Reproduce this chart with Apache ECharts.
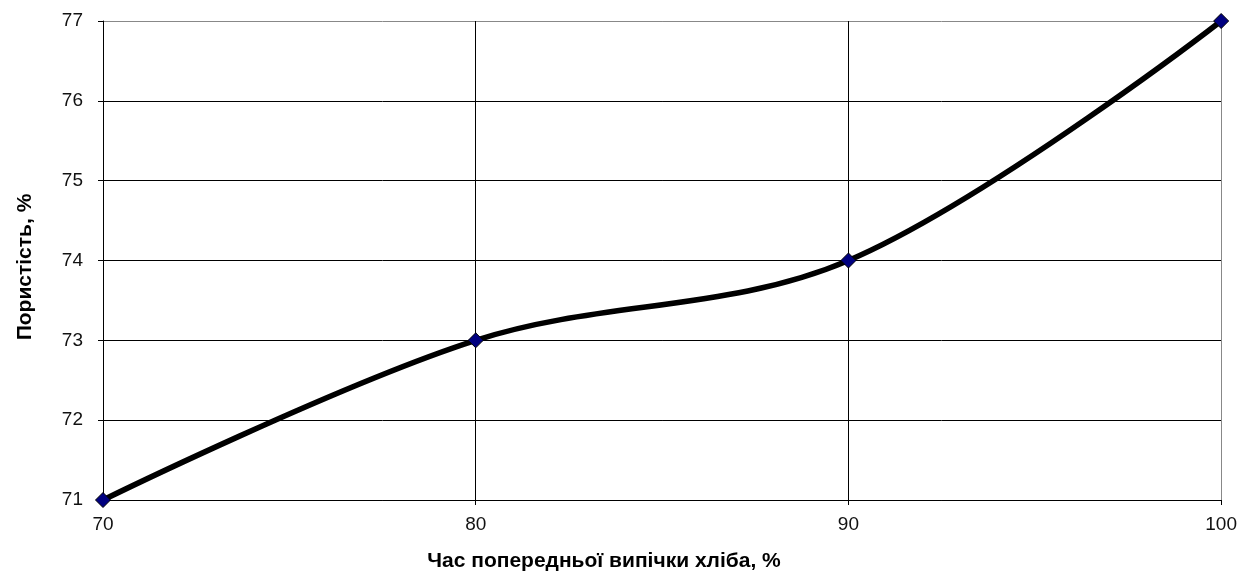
<!DOCTYPE html>
<html>
<head>
<meta charset="utf-8">
<style>
  html, body { margin: 0; padding: 0; background: #fff; }
  #chart { width: 1240px; height: 573px; }
</style>
<script src="https://cdn.jsdelivr.net/npm/echarts@6/dist/echarts.min.js"></script>
</head>
<body>
<div id="chart"></div>
<script>
// Pre-baking time of bread (%) vs. porosity (%)
const bakeTime = [70, 80, 90, 100];
const porosity = [71, 73, 74, 77];

const xTitle = 'Час попередньої випічки хліба, %';
const yTitle = 'Пористість, %';

const font = 'Arial, "Liberation Sans", sans-serif';

const chart = echarts.init(document.getElementById('chart'), null, { renderer: 'canvas' });

chart.setOption({
  animation: false,
  backgroundColor: '#fff',
  grid: { left: 103, right: 18, top: 21, bottom: 73, containLabel: false },
  xAxis: {
    type: 'value',
    min: 70, max: 100, interval: 10,
    axisLine: { show: true, lineStyle: { color: '#000', width: 1 } },
    axisTick: { show: true, length: 5, lineStyle: { color: '#000' } },
    axisLabel: { color: '#111', fontFamily: font, fontSize: 19, margin: 15 },
    splitLine: { show: true, lineStyle: { color: ['#000', '#000', '#000', '#888'], width: 1 } }
  },
  yAxis: {
    type: 'value',
    min: 71, max: 77, interval: 1,
    axisLine: { show: true, lineStyle: { color: '#000', width: 1 } },
    axisTick: { show: true, length: 5, lineStyle: { color: '#000' } },
    axisLabel: { color: '#111', fontFamily: font, fontSize: 19, margin: 20 },
    splitLine: { show: true, lineStyle: { color: ['#000', '#000', '#000', '#000', '#000', '#000', '#888'], width: 1 } }
  },
  // axis titles
  graphic: [
    {
      type: 'text',
      x: 604, y: 561,
      style: {
        text: xTitle, fill: '#000', font: 'bold 21px ' + font,
        textAlign: 'center', textVerticalAlign: 'middle'
      }
    },
    {
      type: 'text',
      x: 25, y: 267,
      rotation: Math.PI / 2,
      style: {
        text: yTitle, fill: '#000', font: 'bold 21px ' + font,
        textAlign: 'center', textVerticalAlign: 'middle'
      }
    }
  ],
  series: [{
    type: 'line',
    data: bakeTime.map((x, i) => [x, porosity[i]]),
    smooth: 0.35,
    lineStyle: { color: '#000', width: 5.5 },
    symbol: 'diamond',
    symbolSize: 15,
    itemStyle: { color: '#000080', borderColor: '#000', borderWidth: 1 },
    z: 3
  }]
});
</script>
</body>
</html>
